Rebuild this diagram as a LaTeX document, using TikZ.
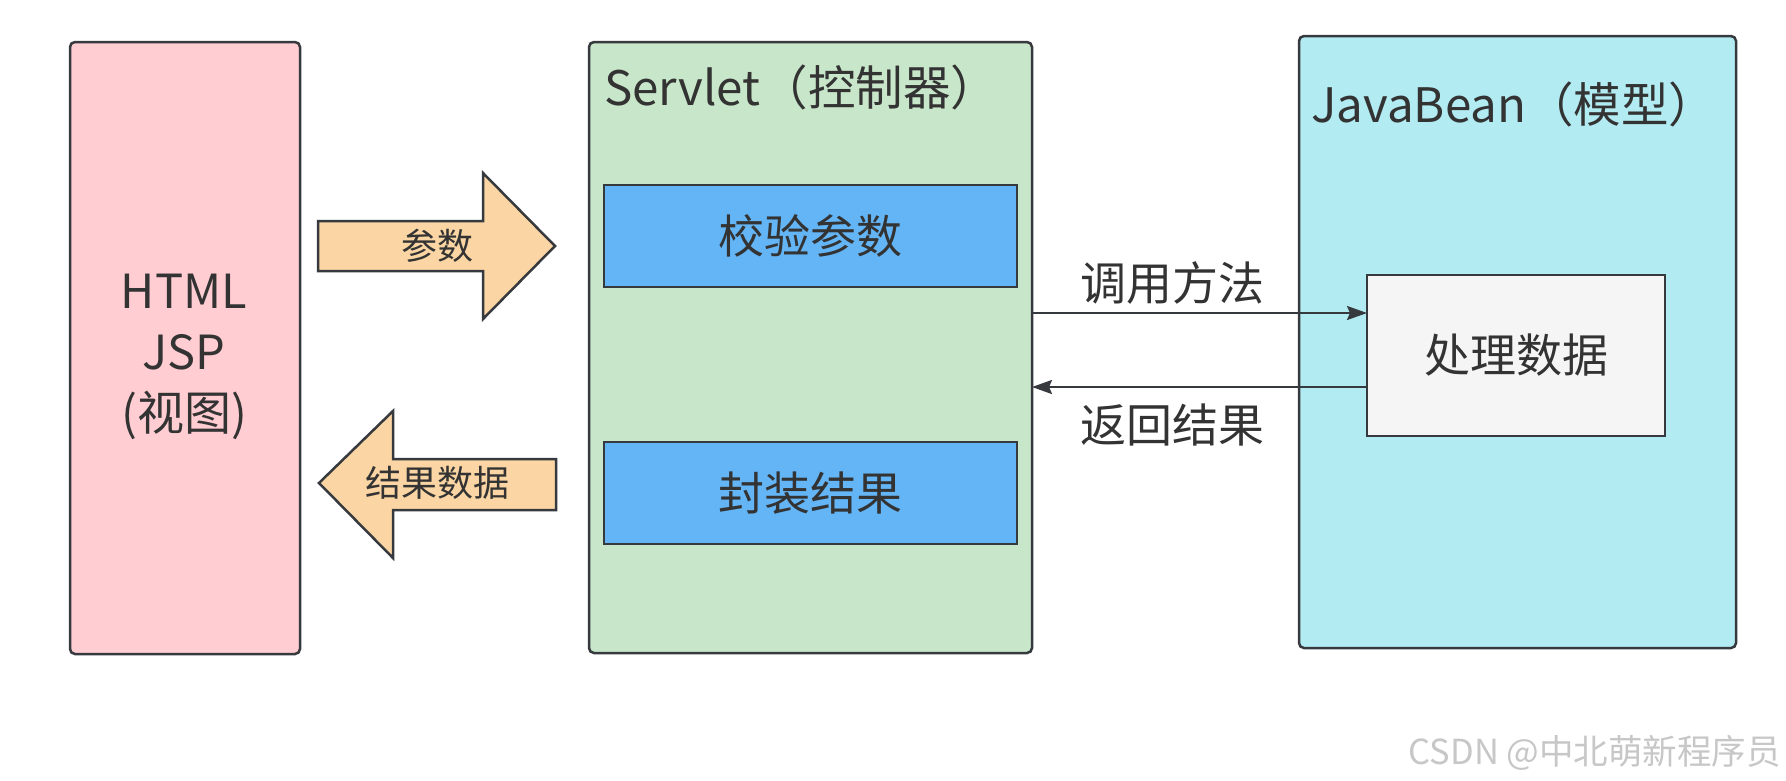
\documentclass[tikz,border=0pt]{standalone}
\usepackage{fontspec}
\setmainfont{Noto Sans CJK SC}
\usetikzlibrary{arrows.meta}
\definecolor{linec}{HTML}{36393D}
\definecolor{txtc}{HTML}{333333}
\definecolor{pinkc}{HTML}{FFCDD2}
\definecolor{greenc}{HTML}{C8E6C9}
\definecolor{cyanc}{HTML}{B2EBF2}
\definecolor{bluec}{HTML}{64B5F6}
\definecolor{greyc}{HTML}{F5F5F5}
\definecolor{orangec}{HTML}{FBD6A4}
\begin{document}
\begin{tikzpicture}[x=1pt,y=-1pt,
  outerbox/.style={draw=linec, line width=2.5pt, rounded corners=5pt, inner sep=0pt, outer sep=0pt},
  innerbox/.style={draw=linec, line width=2.5pt, inner sep=0pt, outer sep=0pt, text=txtc, font=\fontsize{46pt}{55pt}\selectfont},
  bigtext/.style={text=txtc, font=\fontsize{46pt}{55pt}\selectfont, inner sep=0pt},
  titletext/.style={text=txtc, font=\fontsize{47.5pt}{55pt}\selectfont, inner sep=0pt},
  smalltext/.style={text=txtc, font=\fontsize{36pt}{43pt}\selectfont, inner sep=0pt},
  fatarrow/.style={draw=linec, line width=2.5pt, fill=orangec, line join=miter},
  conn/.style={draw=linec, line width=2.4pt, -{Stealth[length=20pt,width=14pt,inset=3pt]}}
]
\useasboundingbox[fill=white] (0,0) rectangle (1786,780);

% containers
\node[outerbox, fill=pinkc, minimum width=230pt, minimum height=612pt] (view) at (185,348) {};
\node[outerbox, fill=greenc, minimum width=443pt, minimum height=611pt] (servlet) at (810.5,347.5) {};
\node[outerbox, fill=cyanc, minimum width=437pt, minimum height=612pt] (bean) at (1517.5,342) {};

% titles
\node[bigtext, align=center, font=\fontsize{47pt}{61pt}\selectfont] (viewtxt) at (184,357) {HTML\\JSP\\(视图)};
\node[titletext, anchor=base west] (servtitle) at (604,105) {Servlet（控制器）};
\node[titletext, anchor=base west] (beantitle) at (1311,122) {JavaBean（模型）};

% inner boxes
\node[innerbox, fill=bluec, minimum width=413pt, minimum height=102pt] (check) at (810.5,236) {校验参数};
\node[innerbox, fill=bluec, minimum width=413pt, minimum height=102pt] (wrap) at (810.5,493) {封装结果};
\node[innerbox, fill=greyc, minimum width=298pt, minimum height=161pt] (proc) at (1516,355.5) {处理数据};

% fat arrows
\draw[fatarrow] (318,221) -- (483,221) -- (483,173) -- (555,246) -- (483,319) -- (483,271) -- (318,271) -- cycle;
\node[smalltext] (paramlbl) at (437,246) {参数};
\draw[fatarrow] (556,459) -- (393,459) -- (393,411) -- (319,483) -- (393,558) -- (393,510) -- (556,510) -- cycle;
\node[smalltext] (resultlbl) at (437,483) {结果数据};

% connectors
\coordinate (c1) at (0,313);
\coordinate (c2) at (0,387);
\draw[conn] (servlet.east |- c1) -- (proc.west |- c1);
\draw[conn] (proc.west |- c2) -- (servlet.east |- c2);
\node[bigtext] (calllbl) at (1172,283) {调用方法};
\node[bigtext] (retlbl) at (1172,425) {返回结果};

% watermark
\node[anchor=east, text=black!22, font=\fontsize{34.5pt}{40pt}\selectfont, inner sep=0pt] (wm) at (1781,753) {CSDN @中北萌新程序员};
\end{tikzpicture}
\end{document}
